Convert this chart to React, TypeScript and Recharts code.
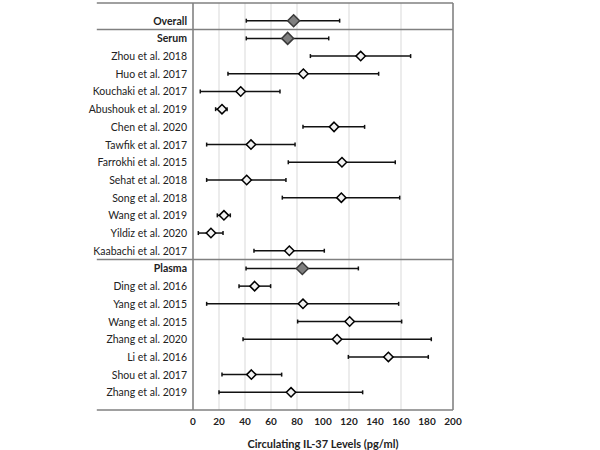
import React from 'react';
import {
  ScatterChart, Scatter, XAxis, YAxis, CartesianGrid, ErrorBar, ReferenceLine,
} from 'recharts';

const labels = [
  'Overall', 'Serum', 'Zhou et al. 2018', 'Huo et al. 2017', 'Kouchaki et al. 2017',
  'Abushouk et al. 2019', 'Chen et al. 2020', 'Tawfik et al. 2017', 'Farrokhi et al. 2015',
  'Sehat et al. 2018', 'Song et al. 2018', 'Wang et al. 2019', 'Yildiz et al. 2020',
  'Kaabachi et al. 2017', 'Plasma', 'Ding et al. 2016', 'Yang et al. 2015',
  'Wang et al. 2015', 'Zhang et al. 2020', 'Li et al. 2016', 'Shou et al. 2017', 'Zhang et al. 2019',
];
const means = [77.4, 72.8, 129, 84.9, 36.7, 22.3, 108.5, 44.6, 114.6, 41.3, 114.1, 23.8, 13.8, 74.1, 84.1, 47.4, 84.6, 120.5, 110.8, 150.3, 44.9, 75.4];
const lows = [41, 41, 90.3, 26.9, 5.6, 17.4, 84.6, 10.5, 73.3, 10.5, 68.7, 18.7, 4.1, 46.9, 40.8, 35.4, 10.5, 80.5, 38.5, 119.5, 22.3, 20];
const highs = [112.8, 104.4, 167.4, 142.8, 66.9, 26.2, 132, 78.5, 155.6, 71.5, 159, 28.7, 23.1, 101, 127.2, 59.7, 158.2, 160.5, 183.3, 181, 68.2, 130.5];
const summaryRows = ['Overall', 'Serum', 'Plasma'];
const xTicks = [0, 20, 40, 60, 80, 100, 120, 140, 160, 180, 200];
const separators = [-1, 0.5, 13.5, 22];

const data = labels.map((name, i) => ({
  row: i,
  name,
  mean: means[i],
  err: [means[i] - lows[i], highs[i] - means[i]],
  summary: summaryRows.includes(name),
}));

const Diamond = (props: any) => {
  const { cx, cy, payload } = props;
  const s = payload.summary ? 6 : 4.7;
  const pts = `${cx},${cy - s} ${cx + s},${cy} ${cx},${cy + s} ${cx - s},${cy}`;
  return (
    <polygon
      points={pts}
      fill={payload.summary ? '#7f7f7f' : '#f2f2f2'}
      stroke={payload.summary ? '#3a3a3a' : '#000'}
      strokeWidth={1.5}
    />
  );
};

const RowTick = (props: any) => {
  const { x, y, payload } = props;
  const name = labels[payload.value];
  const bold = summaryRows.includes(name);
  return (
    <text x={x} y={y} dy={4} textAnchor="end" fontSize={10.5} fill="#222" fontWeight={bold ? 700 : 400}>
      {name}
    </text>
  );
};

export default function App() {
  return (
    <div style={{ position: 'absolute', left: 0, top: 0, fontFamily: 'Lato, sans-serif' }}>
      <ScatterChart width={600} height={450} margin={{ top: 3, right: 147, bottom: 0, left: 0 }}>
        <CartesianGrid horizontal={false} stroke="#d9d9d9" />
        <XAxis
          type="number"
          dataKey="mean"
          domain={[0, 200]}
          ticks={xTicks}
          axisLine={false}
          tickLine={false}
          height={40}
          tick={{ fontSize: 10, fontWeight: 700, fill: '#222' }}
          label={{ value: 'Circulating IL-37 Levels (pg/ml)', position: 'insideBottom', offset: 2, fontSize: 11, fontWeight: 700, fill: '#222' }}
        />
        <YAxis
          type="number"
          dataKey="row"
          domain={[-1, 22]}
          reversed
          ticks={data.map((d) => d.row)}
          interval={0}
          width={193}
          tickLine={false}
          tickSize={0}
          tickMargin={6}
          axisLine={{ stroke: '#808080', strokeWidth: 1.5 }}
          tick={<RowTick />}
        />
        {separators.map((y) => (
          <ReferenceLine
            key={y}
            segment={[{ x: -74, y }, { x: 200, y }]}
            stroke="#808080"
            strokeWidth={1.5}
            ifOverflow="visible"
          />
        ))}
        <ReferenceLine x={200} stroke="#808080" strokeWidth={1.5} ifOverflow="visible" />
        <Scatter data={data} shape={<Diamond />} isAnimationActive={false}>
          <ErrorBar dataKey="err" direction="x" width={2} stroke="#111" strokeWidth={1.5} />
        </Scatter>
      </ScatterChart>
    </div>
  );
}
